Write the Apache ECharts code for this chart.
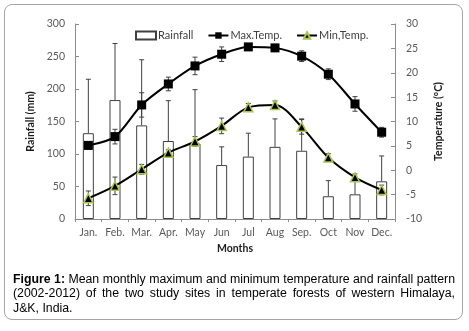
<!DOCTYPE html>
<html>
<head>
<meta charset="utf-8">
<script src="https://cdn.jsdelivr.net/npm/echarts@6/dist/echarts.min.js"></script>
<style>
html,body{margin:0;padding:0;background:#fff;}
#frame{position:absolute;left:4px;top:4px;width:457px;height:314px;border:1.5px solid #a6a6a6;border-radius:8px;}
#chart{position:absolute;left:0;top:0;width:469px;height:331px;}
#caption{position:absolute;left:13px;top:272px;width:442px;font-family:'Liberation Sans',Arial,sans-serif;font-size:12.3px;line-height:14.4px;color:#000;}
#caption div{white-space:nowrap;}
#caption .j{text-align:justify;text-align-last:justify;}
</style>
</head>
<body>
<div id="frame"></div>
<div id="chart"></div>
<div id="caption">
<div class="j"><b>Figure 1:</b> Mean monthly maximum and minimum temperature and rainfall pattern</div>
<div class="j">(2002-2012) of the two study sites in temperate forests of western Himalaya,</div>
<div>J&amp;K, India.</div>
</div>
<script>
const months = ['Jan.','Feb.','Mar.','Apr.','May','Jun','Jul','Aug','Sep.','Oct','Nov','Dec.'];
const rainfall = [132,183,144,120,116,83,96,111,105,35,38,58];
const rainfallErr = [83,87,101,62,83,28,36,43,49,24,22,39];
const maxTemp = [5.1,6.9,13.4,17.7,21.4,23.8,25.3,25.1,23.4,19.7,13.6,7.8];
const maxTempErr = [0.8,1.5,2.5,1.4,1.8,1.5,0.7,0.7,1.1,1.1,1.5,1.0];
const minTemp = [-5.75,-3.2,0.2,3.6,5.9,9.1,12.9,13.4,8.9,2.6,-1.45,-4.05];
const minTempErr = [1.5,1.8,1.0,0.6,1.0,1.6,0.8,0.8,1.5,0.8,0.7,1.0];

const FONT = 'Lato, "Open Sans", sans-serif';

function errData(vals, errs){ return vals.map((v,i)=>[i, v, errs[i]]); }
function errRender(oneSided, cap, color){
  return function(params, api){
    const i = api.value(0), v = api.value(1), e = api.value(2);
    const top = api.coord([i, v + e]);
    const bot = api.coord([i, oneSided ? v : v - e]);
    const hw = cap/2;
    const st = {stroke: color, lineWidth: 1};
    const children = [
      {type:'line', shape:{x1:top[0], y1:top[1], x2:bot[0], y2:bot[1]}, style: st},
      {type:'line', shape:{x1:top[0]-hw, y1:top[1], x2:top[0]+hw, y2:top[1]}, style: st}
    ];
    if(!oneSided) children.push({type:'line', shape:{x1:bot[0]-hw, y1:bot[1], x2:bot[0]+hw, y2:bot[1]}, style: st});
    return {type:'group', children};
  };
}

const chart = echarts.init(document.getElementById('chart'), null, {renderer:'canvas'});
chart.setOption({
  animation:false,
  textStyle:{fontFamily:FONT},
  grid:{left:75, right:74, top:24, bottom:112, containLabel:false},
  legend:{
    left:130, top:25, itemWidth:20, itemHeight:8, itemGap:14,
    textStyle:{fontFamily:FONT, fontSize:11, color:'#404040', padding:[0,0,0,-3]},
    data:[{name:'Rainfall', icon:'rect'},'Max.Temp.','Min,Temp.']
  },
  xAxis:{
    type:'category', data:months,
    axisLine:{onZero:false, lineStyle:{color:'#8c8c8c', width:1}},
    axisTick:{show:true, length:3, lineStyle:{color:'#8c8c8c'}},
    axisLabel:{color:'#595959', fontSize:10.5, margin:8, interval:0, fontFamily:FONT},
    name:'Months', nameLocation:'middle', nameGap:22,
    nameTextStyle:{fontWeight:'bold', fontSize:10.5, color:'#1a1a1a', fontFamily:FONT}
  },
  yAxis:[
    {type:'value', min:0, max:300, interval:50,
     axisLine:{show:true, lineStyle:{color:'#8c8c8c'}},
     axisTick:{show:true, inside:true, length:4, lineStyle:{color:'#8c8c8c'}},
     splitLine:{show:false},
     axisLabel:{color:'#595959', fontSize:10.5, margin:10, fontFamily:FONT},
     name:'Rainfall (mm)', nameLocation:'middle', nameGap:28, nameRotate:90,
     nameTextStyle:{fontWeight:'bold', fontSize:10.5, color:'#1a1a1a', fontFamily:FONT}},
    {type:'value', min:-10, max:30, interval:5, position:'right',
     axisLine:{show:true, lineStyle:{color:'#8c8c8c'}},
     axisTick:{show:true, inside:true, length:4, lineStyle:{color:'#8c8c8c'}},
     splitLine:{show:false},
     axisLabel:{color:'#595959', fontSize:10.5, margin:11, fontFamily:FONT},
     name:'Temperature (°C)', nameLocation:'middle', nameGap:28, nameRotate:90,
     nameTextStyle:{fontWeight:'bold', fontSize:10.5, color:'#1a1a1a', fontFamily:FONT}}
  ],
  series:[
    {name:'Rainfall', type:'bar', yAxisIndex:0, data:rainfall, barWidth:11, z:1,
     itemStyle:{color:'#ffffff', borderColor:'#404040', borderWidth:1}},
    {name:'RainErr', type:'custom', yAxisIndex:0, data:errData(rainfall, rainfallErr), z:1,
     renderItem:errRender(true, 5, '#404040'), encode:{x:0, y:1}, silent:true},
    {name:'MaxErr', type:'custom', yAxisIndex:1, data:errData(maxTemp, maxTempErr), z:2,
     renderItem:errRender(false, 5, '#404040'), encode:{x:0, y:1}, silent:true},
    {name:'MinErr', type:'custom', yAxisIndex:1, data:errData(minTemp, minTempErr), z:2,
     renderItem:errRender(false, 5, '#404040'), encode:{x:0, y:1}, silent:true},
    {name:'Max.Temp.', type:'line', yAxisIndex:1, data:maxTemp, z:3,
     symbol:'rect', symbolSize:9, smooth:0.3,
     lineStyle:{color:'#000', width:2}, itemStyle:{color:'#000'}},
    {name:'Min,Temp.', type:'line', yAxisIndex:1, data:minTemp, z:3,
     symbol:'triangle', symbolSize:9, smooth:0.3,
     lineStyle:{color:'#000', width:2}, itemStyle:{color:'#000', borderColor:'#a9c451', borderWidth:1.5}}
  ]
});
</script>
</body>
</html>
